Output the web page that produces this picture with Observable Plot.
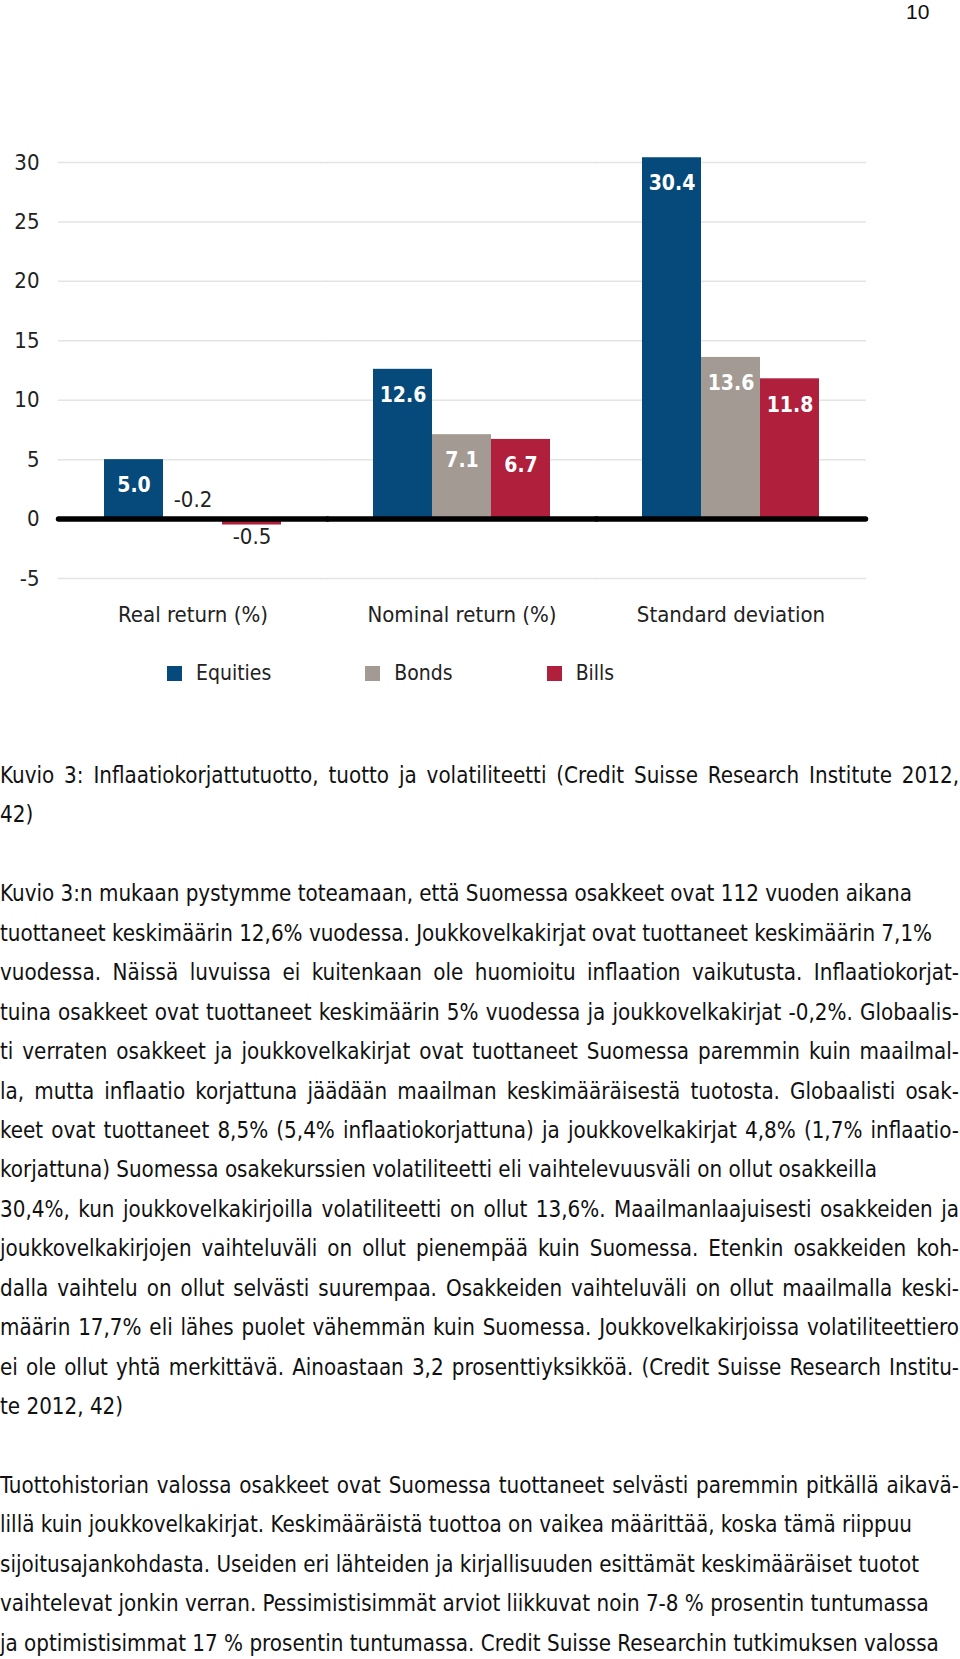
<!DOCTYPE html>
<html>
<head>
<meta charset="utf-8">
<script src="https://cdn.jsdelivr.net/npm/d3@7"></script>
<script src="https://cdn.jsdelivr.net/npm/@observablehq/plot@0.6"></script>
<style>
  body { margin: 0; background: #fff; }
  #page { position: relative; width: 960px; height: 1659px; overflow: hidden; background: #fff; }
  #pagenum { position: absolute; left: 906px; top: 0px; font: 21px "Liberation Sans", Arial, sans-serif; color: #111; }
  #chart { position: absolute; left: 0; top: 130px; }
  #legend { position: absolute; left: 167px; top: 658px; height: 30px; display: flex; align-items: center; gap: 94px;
            font-family: "Liberation Sans Narrow", "DejaVu Sans Condensed", sans-serif; font-stretch: condensed; font-size: 21px; color: #222; }
  #legend .item { display: flex; align-items: center; gap: 14px; }
  #legend .sw { width: 15px; height: 15px; display: inline-block; }
  #text { position: absolute; left: 0; top: 756px; width: 960px;
          font-family: "DejaVu Sans Condensed", "DejaVu Sans", sans-serif; font-stretch: condensed;
          font-size: 22.2px; line-height: 39.45px; color: #111; }
  #text div { white-space: nowrap; height: 39.45px; }
  #text div.just { white-space: normal; width: 959px; text-align: justify; text-align-last: justify; }
</style>
</head>
<body>
<div id="page">
  <div id="pagenum">10</div>
  <div id="chart"></div>
  <div id="legend"></div>
  <div id="text"></div>
</div>
<script>
// ---- data ----
const categories = ["Real return (%)", "Nominal return (%)", "Standard deviation"];
const series = ["Equities", "Bonds", "Bills"];
const seriesColors = ["#054a7b", "#a39a93", "#b01f3c"];
const equities = [5.0, 12.6, 30.4];
const bonds = [-0.2, 7.1, 13.6];
const bills = [-0.5, 6.7, 11.8];
const yTicks = [-5, 0, 5, 10, 15, 20, 25, 30];

const textLines = [
  "Kuvio 3: Inflaatiokorjattutuotto, tuotto ja volatiliteetti (Credit Suisse Research Institute 2012,",
  "42)",
  "",
  "Kuvio 3:n mukaan pystymme toteamaan, että Suomessa osakkeet ovat 112 vuoden aikana",
  "tuottaneet keskimäärin 12,6% vuodessa. Joukkovelkakirjat ovat tuottaneet keskimäärin 7,1%",
  "vuodessa. Näissä luvuissa ei kuitenkaan ole huomioitu inflaation vaikutusta. Inflaatiokorjat-",
  "tuina osakkeet ovat tuottaneet keskimäärin 5% vuodessa ja joukkovelkakirjat -0,2%. Globaalis-",
  "ti verraten osakkeet ja joukkovelkakirjat ovat tuottaneet Suomessa paremmin kuin maailmal-",
  "la, mutta inflaatio korjattuna jäädään maailman keskimääräisestä tuotosta. Globaalisti osak-",
  "keet ovat tuottaneet 8,5% (5,4% inflaatiokorjattuna) ja joukkovelkakirjat 4,8% (1,7% inflaatio-",
  "korjattuna) Suomessa osakekurssien volatiliteetti eli vaihtelevuusväli on ollut osakkeilla",
  "30,4%, kun joukkovelkakirjoilla volatiliteetti on ollut 13,6%. Maailmanlaajuisesti osakkeiden ja",
  "joukkovelkakirjojen vaihteluväli on ollut pienempää kuin Suomessa. Etenkin osakkeiden koh-",
  "dalla vaihtelu on ollut selvästi suurempaa. Osakkeiden vaihteluväli on ollut maailmalla keski-",
  "määrin 17,7% eli lähes puolet vähemmän kuin Suomessa. Joukkovelkakirjoissa volatiliteettiero",
  "ei ole ollut yhtä merkittävä. Ainoastaan 3,2 prosenttiyksikköä. (Credit Suisse Research Institu-",
  "te 2012, 42)",
  "",
  "Tuottohistorian valossa osakkeet ovat Suomessa tuottaneet selvästi paremmin pitkällä aikavä-",
  "lillä kuin joukkovelkakirjat. Keskimääräistä tuottoa on vaikea määrittää, koska tämä riippuu",
  "sijoitusajankohdasta. Useiden eri lähteiden ja kirjallisuuden esittämät keskimääräiset tuotot",
  "vaihtelevat jonkin verran. Pessimistisimmät arviot liikkuvat noin 7-8 % prosentin tuntumassa",
  "ja optimistisimmat 17 % prosentin tuntumassa. Credit Suisse Researchin tutkimuksen valossa"
];
// lines that run to the right margin in the source (justified)
const justifiedLines = [0, 5, 6, 7, 8, 9, 11, 12, 13, 14, 15, 18];

// ---- table ----
const valuesBySeries = [equities, bonds, bills];
const table = categories.flatMap((c, i) =>
  series.map((s, j) => ({category: c, series: s, value: valuesBySeries[j][i]})));

const FONT = '"Liberation Sans Narrow", "DejaVu Sans Condensed", sans-serif';

const chart = Plot.plot({
  width: 960,
  height: 520,
  marginLeft: 58,
  marginRight: 94,
  marginTop: 32,
  marginBottom: 72,
  style: {fontFamily: FONT, fontSize: "22px", color: "#222", background: "transparent", overflow: "visible"},
  fx: {domain: categories, paddingInner: 0.333, paddingOuter: 0.1667, axis: "bottom", tickSize: 0, tickPadding: 28, label: null},
  x: {domain: series, padding: 0, axis: null},
  y: {domain: [-5, 30], ticks: yTicks, tickSize: 0, tickPadding: 64, tickFormat: d => String(d), label: null},
  color: {domain: series, range: seriesColors},
  marks: [
    Plot.ruleY(yTicks.filter(t => t !== 0), {stroke: "#e4e4e4", strokeWidth: 1.5, insetLeft: -45, insetRight: -46}),
    Plot.barY(table, {fx: "category", x: "series", y: "value", fill: "series"}),
    Plot.ruleY([0], {stroke: "#000", strokeWidth: 5.5, strokeLinecap: "round", insetLeft: -44.5, insetRight: -45.5}),
    Plot.text(table, {filter: d => d.value > 0, fx: "category", x: "series", y: "value",
      text: d => d.value.toFixed(1), dy: 26, fill: "white", fontWeight: "bold", fontSize: 21}),
    Plot.text(table, {filter: d => d.value < 0 && d.series === "Bonds", fx: "category", x: "series", y: d => 0,
      text: d => d.value.toFixed(1), dy: -19, fill: "#222", fontSize: 22}),
    Plot.text(table, {filter: d => d.value < 0 && d.series === "Bills", fx: "category", x: "series", y: "value",
      text: d => d.value.toFixed(1), dy: 12, fill: "#222", fontSize: 22})
  ]
});
document.getElementById("chart").appendChild(chart);

// legend
const legend = document.getElementById("legend");
series.forEach((s, i) => {
  const item = document.createElement("div");
  item.className = "item";
  const sw = document.createElement("span");
  sw.className = "sw";
  sw.style.background = seriesColors[i];
  const lab = document.createElement("span");
  lab.textContent = s;
  item.appendChild(sw);
  item.appendChild(lab);
  legend.appendChild(item);
});

// body text
const textEl = document.getElementById("text");
textLines.forEach((line, i) => {
  const d = document.createElement("div");
  d.textContent = line;
  if (justifiedLines.includes(i)) d.className = "just";
  textEl.appendChild(d);
});
</script>
</body>
</html>
